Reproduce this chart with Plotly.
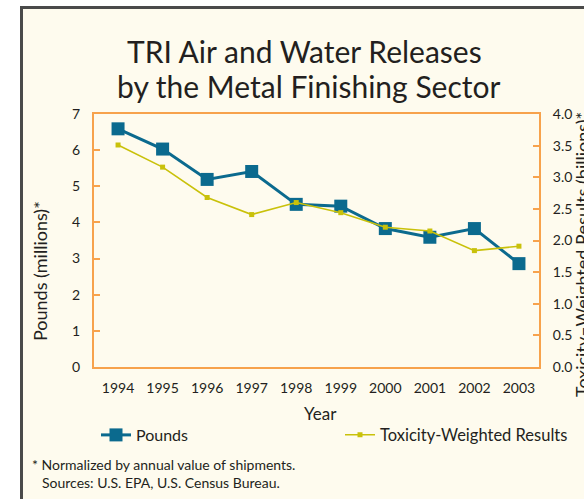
import plotly.graph_objects as go

years = [1994, 1995, 1996, 1997, 1998, 1999, 2000, 2001, 2002, 2003]
pounds = [6.59, 6.03, 5.19, 5.41, 4.50, 4.45, 3.83, 3.59, 3.83, 2.86]
toxicity = [3.51, 3.16, 2.68, 2.41, 2.60, 2.44, 2.21, 2.15, 1.84, 1.91]
left_ticks = [0, 1, 2, 3, 4, 5, 6, 7]
right_ticks = [0.0, 0.5, 1.0, 1.5, 2.0, 2.5, 3.0, 3.5, 4.0]

BLUE = "#0b6a8e"
YELLOW = "#c9c10a"
ORANGE = "#f7a24c"
CREAM = "#fefbee"
TEXT = "#231f20"
FONT = "Lato"

W, H = 584, 499
L, R, T, B = 94, 45, 114, 132
pw, ph = W - L - R, H - T - B

def px(x):
    return (x - L) / pw

def py(y):
    return (H - B - y) / ph

fig = go.Figure()
fig.add_trace(go.Scatter(
    x=years, y=pounds, name="Pounds", mode="lines+markers",
    line=dict(color=BLUE, width=3),
    marker=dict(symbol="square", size=13, color=BLUE),
    legend="legend", showlegend=True,
))
fig.add_trace(go.Scatter(
    x=years, y=toxicity, name="Toxicity-Weighted Results", mode="lines+markers",
    line=dict(color=YELLOW, width=1.6),
    marker=dict(symbol="square", size=5, color=YELLOW),
    yaxis="y2", legend="legend2", showlegend=True,
))

# outer framed box
fig.add_shape(type="rect", xref="paper", yref="paper",
              x0=px(21.5), x1=px(610), y0=py(7.5), y1=py(530),
              line=dict(color="#4a4a4a", width=3), fillcolor=CREAM, layer="below")

annots = [
    dict(text="TRI Air and Water Releases", x=px(304), y=py(51), size=30, color=TEXT),
    dict(text="by the Metal Finishing Sector", x=px(308), y=py(86), size=30, color=TEXT),
]
for a in annots:
    fig.add_annotation(text=a["text"], x=a["x"], y=a["y"], xref="paper", yref="paper",
                       xanchor="center", yanchor="middle", showarrow=False,
                       font=dict(family=FONT, size=a["size"], color=a["color"]))

fig.add_annotation(text="Pounds (millions)*", x=px(40), y=py(271), xref="paper", yref="paper",
                   textangle=-90, showarrow=False, xanchor="center", yanchor="middle",
                   font=dict(family=FONT, size=18, color=TEXT))
fig.add_annotation(text="Toxicity–Weighted Results (billions)*", x=px(582), y=py(255),
                   xref="paper", yref="paper", textangle=-90, showarrow=False,
                   xanchor="center", yanchor="middle",
                   font=dict(family=FONT, size=18, color=TEXT))
fig.add_annotation(text="Year", x=px(320), y=py(413), xref="paper", yref="paper",
                   showarrow=False, xanchor="center", yanchor="middle",
                   font=dict(family=FONT, size=17, color=TEXT))
fig.add_annotation(text="* Normalized by annual value of shipments.", x=px(30), y=py(464),
                   xref="paper", yref="paper", showarrow=False, xanchor="left", yanchor="middle",
                   font=dict(family=FONT, size=14, color=TEXT))
fig.add_annotation(text="Sources: U.S. EPA, U.S. Census Bureau.", x=px(40), y=py(482),
                   xref="paper", yref="paper", showarrow=False, xanchor="left", yanchor="middle",
                   font=dict(family=FONT, size=14, color=TEXT))

axis_common = dict(showgrid=False, zeroline=False, showline=True, linecolor=ORANGE,
                   linewidth=2, tickfont=dict(family=FONT, size=14, color=TEXT))

fig.update_layout(
    width=W, height=H,
    margin=dict(l=L, r=R, t=T, b=B, pad=0, autoexpand=False),
    paper_bgcolor="white", plot_bgcolor=CREAM,
    showlegend=True,
    xaxis=dict(**axis_common, range=[1993.46, 2003.45], tickmode="array",
               tickvals=years, ticktext=[str(y) for y in years], ticks="",
               mirror=True, ticklabelstandoff=7),
    yaxis=dict(**axis_common, range=[0, 7], tickmode="array", tickvals=left_ticks,
               ticks="inside", ticklen=6, tickcolor=ORANGE, tickwidth=1.5,
               ticklabelstandoff=9),
    yaxis2=dict(**axis_common, range=[0, 4], overlaying="y", side="right",
                tickmode="array", tickvals=right_ticks,
                ticktext=[f"{v:.1f}" for v in right_ticks],
                ticks="inside", ticklen=6, tickcolor=ORANGE, tickwidth=1.5,
                ticklabelstandoff=9),
    legend=dict(orientation="h", x=px(96), y=py(435), xanchor="left", yanchor="middle",
                visible=True,
                bgcolor="rgba(0,0,0,0)", font=dict(family=FONT, size=16, color=TEXT)),
    legend2=dict(orientation="h", x=px(340), y=py(435), xanchor="left", yanchor="middle",
                 visible=True,
                 bgcolor="rgba(0,0,0,0)", font=dict(family=FONT, size=16.5, color=TEXT)),
)

fig.write_html("out.html", config={"displayModeBar": False},
               post_script="document.body.style.margin='0';document.body.style.overflow='hidden';")
